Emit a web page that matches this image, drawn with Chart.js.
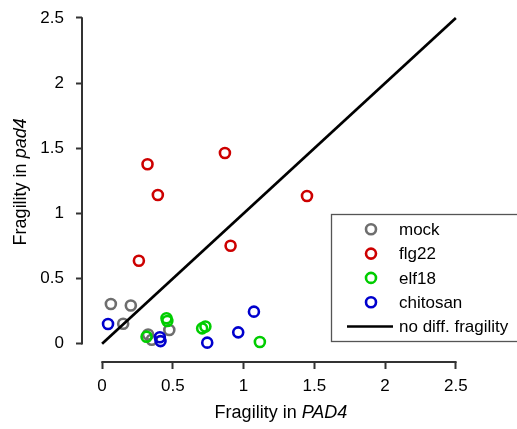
<!DOCTYPE html>
<html>
<head>
<meta charset="utf-8">
<script src="https://cdn.jsdelivr.net/npm/chart.js@4/dist/chart.umd.min.js"></script>
<style>
  body { margin: 0; background: #fff; }
  canvas { display: block; }
</style>
</head>
<body>
<canvas id="fragChart" width="517" height="429"></canvas>
<script>
// tick labels on both axes
const xTicks = [0, 0.5, 1, 1.5, 2, 2.5];
const yTicks = [0, 0.5, 1, 1.5, 2, 2.5];

// fragility values (x = PAD4, y = pad4)
const mockX = [0.062, 0.203, 0.149, 0.325, 0.475, 0.351];
const mockY = [0.305, 0.293, 0.153, 0.071, 0.105, 0.030];

const flg22X = [0.321, 0.394, 0.868, 0.260, 0.908, 1.448];
const flg22Y = [1.377, 1.141, 1.464, 0.637, 0.752, 1.134];

const elf18X = [0.314, 0.455, 0.461, 0.707, 0.730, 1.115];
const elf18Y = [0.054, 0.195, 0.174, 0.118, 0.132, 0.013];

const chitosanX = [0.042, 0.408, 0.413, 0.743, 0.962, 1.073];
const chitosanY = [0.151, 0.050, 0.020, 0.008, 0.087, 0.246];

// reference line: no differential fragility
const diagX = [0, 2.5];
const diagY = [0, 2.5];

const FONT = "'Liberation Sans', Arial, sans-serif";
const AXIS_COL = '#333333';

function toPoints(xs, ys) {
    return xs.map((x, i) => ({ x: x, y: ys[i] }));
}

function groupDataset(label, xs, ys, color, order) {
    return {
        label: label,
        data: toPoints(xs, ys),
        borderColor: color,
        backgroundColor: 'rgba(0,0,0,0)',
        pointRadius: 5,
        pointHoverRadius: 5,
        pointBorderWidth: 2.6,
        pointHoverBorderWidth: 2.6,
        order: order
    };
}

// R style axis lines (only between the first and last tick) + axis titles
const axesPlugin = {
    id: 'rAxes',
    afterDraw(chart) {
        const ctx = chart.ctx;
        const area = chart.chartArea;
        const xs = chart.scales.x;
        const ys = chart.scales.y;
        ctx.save();
        ctx.strokeStyle = AXIS_COL;
        ctx.lineWidth = 2;
        ctx.lineCap = 'round';
        ctx.beginPath();
        ctx.moveTo(area.left, ys.getPixelForValue(yTicks[0]));
        ctx.lineTo(area.left, ys.getPixelForValue(yTicks[yTicks.length - 1]));
        ctx.moveTo(xs.getPixelForValue(xTicks[0]), area.bottom);
        ctx.lineTo(xs.getPixelForValue(xTicks[xTicks.length - 1]), area.bottom);
        ctx.stroke();

        // titles with an italic part
        ctx.fillStyle = '#000';
        ctx.textBaseline = 'alphabetic';
        ctx.textAlign = 'left';
        const normal = '18px ' + FONT;
        const italic = 'italic 18px ' + FONT;

        function twoPart(a, b, cx, cy, rot) {
            ctx.save();
            ctx.translate(cx, cy);
            ctx.rotate(rot);
            ctx.font = normal;
            const wa = ctx.measureText(a).width;
            ctx.font = italic;
            const wb = ctx.measureText(b).width;
            const start = -(wa + wb) / 2;
            ctx.font = normal;
            ctx.fillText(a, start, 0);
            ctx.font = italic;
            ctx.fillText(b, start + wa, 0);
            ctx.restore();
        }
        const midX = (xs.getPixelForValue(xTicks[0]) + xs.getPixelForValue(xTicks[xTicks.length - 1])) / 2;
        const midY = (ys.getPixelForValue(yTicks[0]) + ys.getPixelForValue(yTicks[yTicks.length - 1])) / 2;
        twoPart('Fragility in ', 'PAD4', midX + 2, 418, 0);
        twoPart('Fragility in ', 'pad4', 26, midY + 1, -Math.PI / 2);
        ctx.restore();
    }
};

// boxed legend in the lower right corner
const legendPlugin = {
    id: 'boxLegend',
    afterDraw(chart) {
        const ctx = chart.ctx;
        ctx.save();
        ctx.fillStyle = '#fff';
        ctx.fillRect(331.5, 214.5, 200, 127);
        ctx.strokeStyle = '#555';
        ctx.lineWidth = 1.3;
        ctx.strokeRect(331.5, 214.5, 200, 127);

        ctx.font = '17px ' + FONT;
        ctx.textBaseline = 'middle';
        ctx.textAlign = 'left';
        chart.data.datasets.forEach((ds, i) => {
            const y = 229.3 + i * 24.3;
            if (ds.showLine) {
                ctx.strokeStyle = ds.borderColor;
                ctx.lineWidth = ds.borderWidth;
                ctx.beginPath();
                ctx.moveTo(347, y);
                ctx.lineTo(393, y);
                ctx.stroke();
            } else {
                ctx.strokeStyle = ds.borderColor;
                ctx.lineWidth = ds.pointBorderWidth;
                ctx.beginPath();
                ctx.arc(371, y, ds.pointRadius, 0, Math.PI * 2);
                ctx.stroke();
            }
            ctx.fillStyle = '#000';
            ctx.fillText(ds.label, 399, y + 1);
        });
        ctx.restore();
    }
};

function axisOptions(ticks, min, max, tickLen, pad, fitFn) {
    return {
        type: 'linear',
        min: min,
        max: max,
        afterBuildTicks: (scale) => {
            scale.ticks = ticks.map(v => ({ value: v }));
        },
        afterFit: (scale) => {
            fitFn(scale);
            // labels never reach the plot edges, so drop the edge padding
            scale.paddingTop = 0;
            scale.paddingBottom = 0;
            scale.paddingLeft = 0;
            scale.paddingRight = 0;
        },
        border: { display: false },
        grid: {
            display: true,
            drawOnChartArea: false,
            drawTicks: true,
            tickLength: tickLen,
            tickColor: AXIS_COL,
            tickWidth: 2
        },
        ticks: {
            padding: pad,
            color: '#000',
            font: { family: FONT, size: 17 },
            maxRotation: 0,
            callback: (v) => String(v)
        }
    };
}

new Chart(document.getElementById('fragChart'), {
    type: 'scatter',
    data: {
        datasets: [
            groupDataset('mock', mockX, mockY, '#6e6e6e', 4),
            groupDataset('flg22', flg22X, flg22Y, '#cd0000', 3),
            groupDataset('elf18', elf18X, elf18Y, '#00cd00', 2),
            groupDataset('chitosan', chitosanX, chitosanY, '#0000cd', 1),
            {
                label: 'no diff. fragility',
                data: toPoints(diagX, diagY),
                showLine: true,
                borderColor: '#000',
                borderWidth: 2.7,
                pointRadius: 0,
                pointHoverRadius: 0,
                order: 0
            }
        ]
    },
    options: {
        responsive: false,
        animation: false,
        layout: { padding: { left: 0, right: 47, top: 10, bottom: 0 } },
        plugins: {
            legend: { display: false },
            tooltip: { enabled: false }
        },
        scales: {
            x: axisOptions(xTicks, -0.142, 2.6, 7, 7, (s) => { s.height = 67; }),
            y: axisOptions(yTicks, -0.1404, 2.5614, 6, 12, (s) => { s.width = 82; })
        }
    },
    plugins: [axesPlugin, legendPlugin]
});
</script>
</body>
</html>
